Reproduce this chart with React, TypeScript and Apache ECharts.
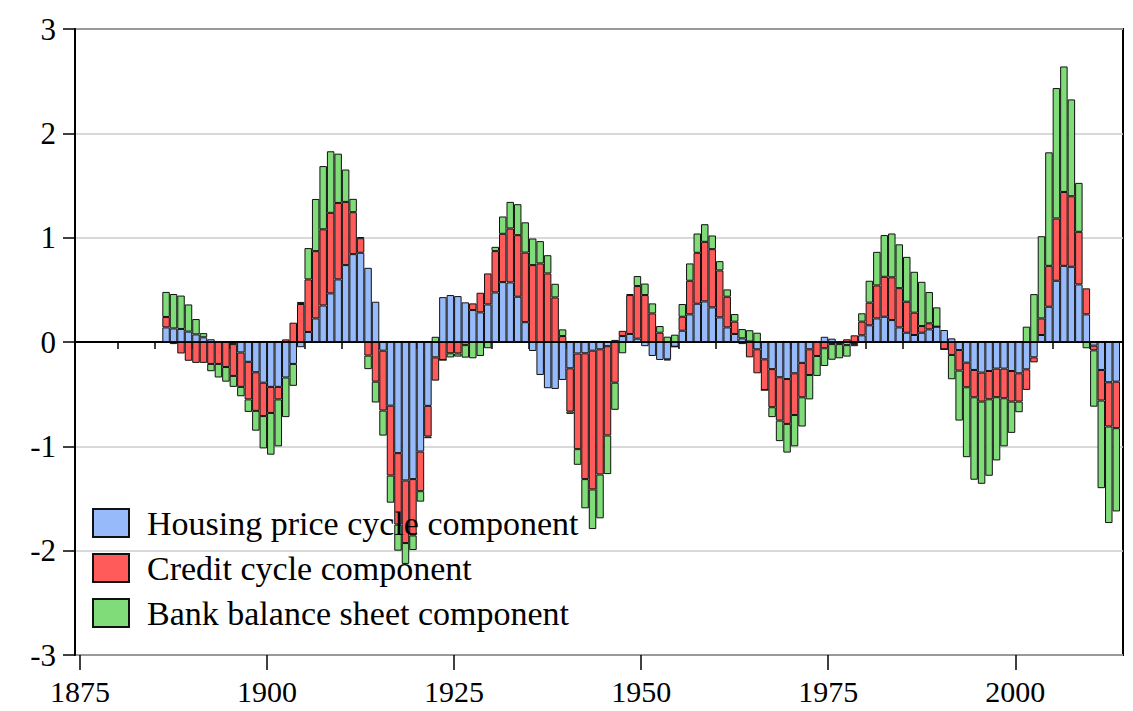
import React, { useEffect, useRef } from "react";
import * as echarts from "echarts";

const firstYear = 1886;
const seriesNames = [
  "Housing price cycle component",
  "Credit cycle component",
  "Bank balance sheet component",
];

const housing = [
  0.14, 0.13, 0.125, 0.10, 0.073, 0.045, 0.026, 0.01, 0.0, -0.02,
  -0.10, -0.19, -0.29, -0.39, -0.43, -0.43, -0.34, -0.21, -0.05, 0.096,
  0.226, 0.35, 0.466, 0.60, 0.737, 0.842, 0.855, 0.711, 0.386, -0.083,
  -0.61, -1.065, -1.327, -1.314, -1.05, -0.612, -0.147, 0.43, 0.45, 0.44,
  0.38, 0.306, 0.284, 0.36, 0.475, 0.574, 0.571, 0.434, 0.19, -0.086,
  -0.316, -0.443, -0.45, -0.364, -0.252, -0.11, -0.108, -0.083, -0.07, -0.04,
  0.02, 0.057, 0.077, 0.032, -0.04, -0.134, -0.172, -0.166, -0.045, 0.108,
  0.265, 0.367, 0.389, 0.332, 0.236, 0.14, 0.077, 0.035, 0.005, -0.07,
  -0.166, -0.26, -0.338, -0.355, -0.3, -0.2, -0.07, 0.01, 0.05, 0.032,
  0.006, -0.03, -0.02, 0.064, 0.16, 0.226, 0.242, 0.21, 0.14, 0.089,
  0.067, 0.089, 0.121, 0.147, 0.115, 0.035, -0.077, -0.198, -0.268, -0.293,
  -0.278, -0.255, -0.255, -0.278, -0.3, -0.262, -0.147, 0.067, 0.338, 0.587,
  0.73, 0.721, 0.552, 0.265, -0.035, -0.268, -0.386, -0.38,
];

const credit = [
  0.10, -0.02, -0.11, -0.18, -0.20, -0.20, -0.21, -0.21, -0.24, -0.305,
  -0.33, -0.36, -0.37, -0.32, -0.25, -0.12, 0.025, 0.185, 0.364, 0.504,
  0.645, 0.73, 0.772, 0.733, 0.606, 0.402, 0.14, -0.13, -0.38, -0.574,
  -0.67, -0.685, -0.60, -0.54, -0.38, -0.294, -0.223, -0.172, -0.108, -0.11,
  -0.03, 0.064, 0.188, 0.297, 0.396, 0.463, 0.517, 0.59, 0.667, 0.737,
  0.753, 0.657, 0.427, 0.057, -0.415, -0.917, -1.206, -1.33, -1.2, -0.856,
  -0.39, 0.05, 0.373, 0.504, 0.45, 0.274, 0.089, -0.01, 0.0, 0.134,
  0.322, 0.488, 0.571, 0.558, 0.45, 0.294, 0.118, -0.02, -0.147, -0.23,
  -0.294, -0.365, -0.415, -0.43, -0.4, -0.33, -0.246, -0.134, -0.06, -0.02,
  -0.02, 0.026, 0.064, 0.131, 0.217, 0.316, 0.383, 0.41, 0.376, 0.297,
  0.214, 0.064, 0.058, 0.0, -0.07, -0.124, -0.197, -0.236, -0.262, -0.278,
  -0.271, -0.274, -0.284, -0.293, -0.271, -0.197, -0.048, 0.159, 0.392, 0.597,
  0.708, 0.676, 0.504, 0.249, -0.045, -0.293, -0.424, -0.446,
];

const bank = [
  0.24, 0.33, 0.32, 0.26, 0.147, 0.04, -0.07, -0.13, -0.14, -0.105,
  -0.09, -0.12, -0.19, -0.31, -0.40, -0.45, -0.38, -0.21, 0.02, 0.30,
  0.50, 0.606, 0.59, 0.472, 0.31, 0.128, 0.01, -0.13, -0.20, -0.24,
  -0.26, -0.25, -0.20, -0.14, -0.10, -0.016, 0.05, 0.0, -0.04, -0.03,
  -0.12, -0.156, -0.134, -0.06, 0.041, 0.166, 0.255, 0.297, 0.29, 0.255,
  0.214, 0.175, 0.131, 0.064, -0.022, -0.15, -0.28, -0.38, -0.42, -0.37,
  -0.26, -0.108, 0.01, 0.096, 0.11, 0.096, 0.064, 0.051, 0.07, 0.122,
  0.166, 0.185, 0.169, 0.131, 0.089, 0.07, 0.073, 0.089, 0.108, 0.089,
  0.0, -0.095, -0.197, -0.275, -0.3, -0.28, -0.234, -0.191, -0.17, -0.15,
  -0.136, -0.11, -0.02, 0.08, 0.21, 0.322, 0.4, 0.42, 0.42, 0.43,
  0.392, 0.424, 0.30, 0.185, 0.0, -0.233, -0.479, -0.67, -0.79, -0.788,
  -0.733, -0.606, -0.461, -0.3, -0.102, 0.147, 0.459, 0.788, 1.088, 1.25,
  1.203, 0.928, 0.469, -0.06, -0.54, -0.84, -0.925, -0.798,
];

const years = housing.map((_, i) => String(firstYear + i));

const minorTickYears = [
  1880, 1885, 1890, 1895, 1905, 1910, 1915, 1920, 1930, 1935, 1940, 1945,
  1955, 1960, 1965, 1970, 1980, 1985, 1990, 1995, 2005, 2010,
];
const majorTickYears = [1875, 1900, 1925, 1950, 1975, 2000];

const colors = ["#96BAFA", "#FF5B5B", "#80DC78"];
const FONT = "'Liberation Serif', 'Times New Roman', serif";

// layout (pixels)
const W = 1133;
const PLOT_LEFT = 75;
const PLOT_RIGHT = 1123;
const PLOT_TOP = 29;
const PLOT_BOTTOM = 655;
const AXIS_MIN = 1874.33;
const AXIS_MAX = 2014.4;

export default function App() {
  const ref = useRef<HTMLDivElement>(null);

  useEffect(() => {
    if (!ref.current) return;
    const chart = echarts.init(ref.current, undefined, { renderer: "svg" });

    const pxPerYear = (PLOT_RIGHT - PLOT_LEFT) / (AXIS_MAX - AXIS_MIN);
    const barsLeft = PLOT_LEFT + (firstYear - AXIS_MIN) * pxPerYear;
    const barsRight = barsLeft + years.length * pxPerYear;

    const all = [housing, credit, bank];
    const series: any[] = all.map((arr, k) => ({
      name: seriesNames[k],
      type: "bar",
      stack: "total",
      xAxisIndex: 2,
      yAxisIndex: 1,
      barWidth: "100%",
      data: arr,
      itemStyle: { color: colors[k], borderColor: "#111", borderWidth: 1 },
    }));
    series.push({
      name: "zero",
      type: "line",
      xAxisIndex: 0,
      yAxisIndex: 0,
      data: [],
      silent: true,
      z: 20,
      markLine: {
        silent: true,
        symbol: "none",
        label: { show: false },
        lineStyle: { color: "#000", width: 1, type: "solid" },
        data: [{ yAxis: 0 }],
        z: 20,
      },
    });

    chart.setOption({
      animation: false,
      backgroundColor: "#fff",
      grid: [
        {
          left: PLOT_LEFT,
          right: W - PLOT_RIGHT,
          top: PLOT_TOP,
          bottom: 711 - PLOT_BOTTOM,
          show: true,
          borderColor: "#000",
          borderWidth: 2,
          backgroundColor: "transparent",
        },
        {
          left: barsLeft,
          right: W - barsRight,
          top: PLOT_TOP,
          bottom: 711 - PLOT_BOTTOM,
        },
      ],
      legend: {
        orient: "vertical",
        left: 92,
        top: 506,
        padding: 0,
        itemWidth: 36,
        itemHeight: 28,
        itemGap: 11,
        icon: "rect",
        data: seriesNames,
        textStyle: {
          fontFamily: FONT,
          fontSize: 34,
          lineHeight: 33,
          color: "#000",
          padding: [0, 0, 0, 13],
        },
      },
      xAxis: [
        {
          type: "value",
          gridIndex: 0,
          min: AXIS_MIN,
          max: AXIS_MAX,
          position: "bottom",
          axisLine: { show: true, lineStyle: { color: "#000", width: 2 } },
          axisTick: {
            show: true,
            customValues: minorTickYears,
            length: 7,
            lineStyle: { color: "#000", width: 1.5 },
          },
          axisLabel: { show: false },
          splitLine: { show: false },
        },
        {
          type: "value",
          gridIndex: 0,
          min: AXIS_MIN,
          max: AXIS_MAX,
          position: "bottom",
          axisLine: { show: false },
          axisTick: {
            show: true,
            customValues: majorTickYears,
            length: 15,
            lineStyle: { color: "#000", width: 1.5 },
          },
          axisLabel: {
            show: true,
            customValues: majorTickYears,
            formatter: (v: number) => String(v),
            fontFamily: FONT,
            fontSize: 30,
            color: "#000",
            margin: 21,
          },
          splitLine: { show: false },
        },
        {
          type: "category",
          gridIndex: 1,
          data: years,
          boundaryGap: true,
          show: false,
        },
      ],
      yAxis: [
        {
          type: "value",
          gridIndex: 0,
          min: -3,
          max: 3,
          interval: 1,
          axisLine: { show: true, lineStyle: { color: "#000", width: 2 } },
          axisTick: {
            show: true,
            length: 12,
            lineStyle: { color: "#000", width: 1.5 },
          },
          axisLabel: {
            fontFamily: FONT,
            fontSize: 31,
            color: "#000",
            margin: 19,
          },
          splitLine: {
            show: true,
            lineStyle: { color: "#cccccc", width: 1.5 },
          },
        },
        {
          type: "value",
          gridIndex: 1,
          min: -3,
          max: 3,
          interval: 1,
          show: false,
          splitLine: { show: false },
        },
      ],
      series,
    });

    return () => {
      chart.dispose();
    };
  }, []);

  return (
    <div
      ref={ref}
      style={{ position: "fixed", left: 0, top: 0, width: 1133, height: 711 }}
    />
  );
}
